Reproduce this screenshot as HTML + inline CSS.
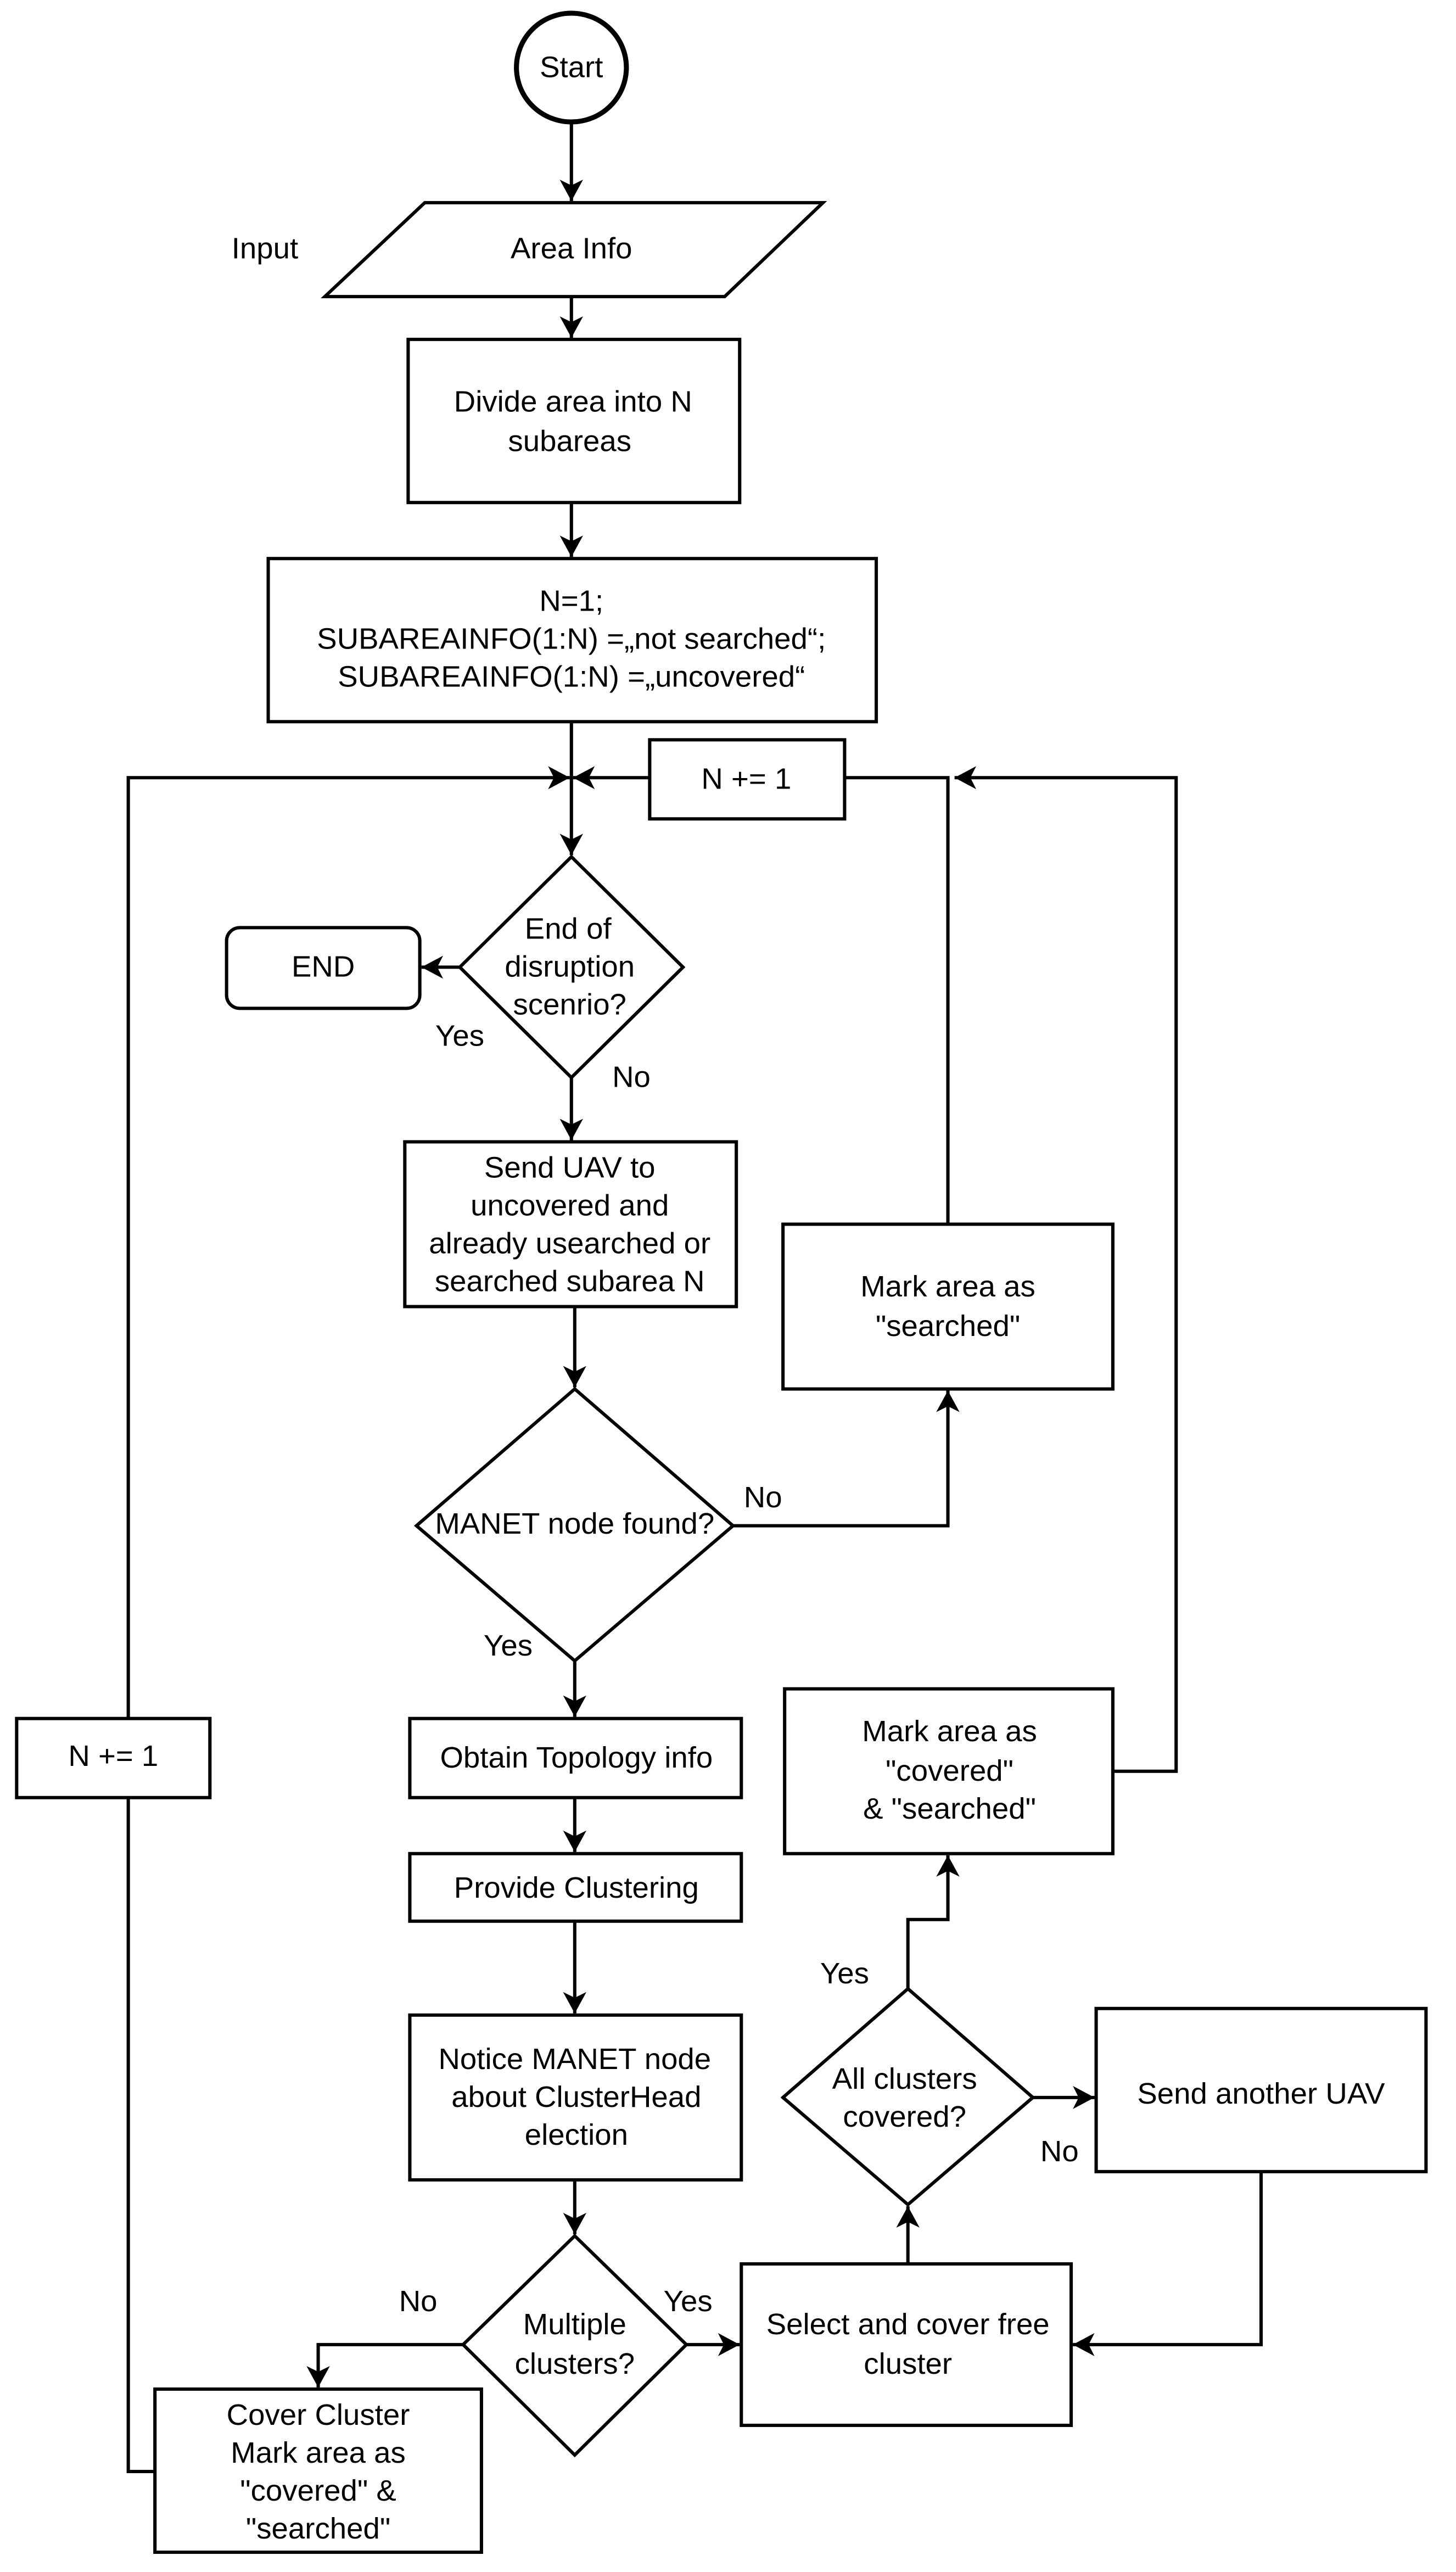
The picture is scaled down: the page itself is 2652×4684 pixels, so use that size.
<!DOCTYPE html>
<html><head><meta charset="utf-8"><style>
html,body{margin:0;padding:0;background:#fff;}
svg{display:block;}
text{font-family:"Liberation Sans",sans-serif;font-size:18px;fill:#000;text-anchor:middle;dominant-baseline:middle;}
</style></head><body>
<svg width="2652" height="4684" viewBox="0 0 874 1561" preserveAspectRatio="none" xmlns="http://www.w3.org/2000/svg">
<defs>
<marker id="a" markerUnits="userSpaceOnUse" markerWidth="16" markerHeight="16" refX="13" refY="7" orient="auto">
<path d="M0,0 L13,7 L0,14 L3.5,7 z" fill="#000"/>
</marker>
</defs>
<g fill="none" stroke="#000" stroke-width="2">
<ellipse cx="343" cy="41" rx="33" ry="33" stroke-width="3"/>
<path d="M255,123 L494,123 L435,180 L195,180 Z"/>
<rect x="245" y="206" width="199" height="99"/>
<rect x="161" y="339" width="365" height="99"/>
<rect x="390" y="449" width="117" height="48"/>
<path d="M343,520 L410,587 L343,654 L276,587 Z"/>
<rect x="136" y="563" width="116" height="49" rx="8"/>
<rect x="243" y="693" width="199" height="100"/>
<path d="M345,843 L440,926 L345,1008 L250,926 Z"/>
<rect x="470" y="743" width="198" height="100"/>
<rect x="10" y="1043" width="116" height="48"/>
<rect x="246" y="1043" width="199" height="48"/>
<rect x="246" y="1125" width="199" height="41"/>
<rect x="246" y="1223" width="199" height="100"/>
<path d="M345,1357 L412,1423 L345,1490 L278,1423 Z"/>
<rect x="93" y="1450" width="196" height="99"/>
<rect x="445" y="1374" width="198" height="98"/>
<path d="M545,1207 L620,1273 L545,1338 L470,1273 Z"/>
<rect x="471" y="1025" width="197" height="100"/>
<rect x="658" y="1219" width="198" height="99"/>

<path d="M343,75 L343,122" marker-end="url(#a)"/>
<path d="M343,180 L343,205" marker-end="url(#a)"/>
<path d="M343,305 L343,338" marker-end="url(#a)"/>
<path d="M343,438 L343,519" marker-end="url(#a)"/>
<path d="M77,1043 L77,472 L342,472" marker-end="url(#a)"/>
<path d="M390,472 L344,472" marker-end="url(#a)"/>
<path d="M507,472 L569,472 L569,743"/>
<path d="M668,1075 L706,1075 L706,472 L573,472" marker-end="url(#a)"/>
<path d="M276,587 L253,587" marker-end="url(#a)"/>
<path d="M343,654 L343,692" marker-end="url(#a)"/>
<path d="M345,793 L345,842" marker-end="url(#a)"/>
<path d="M440,926 L569,926 L569,844" marker-end="url(#a)"/>
<path d="M345,1008 L345,1042" marker-end="url(#a)"/>
<path d="M345,1091 L345,1124" marker-end="url(#a)"/>
<path d="M345,1166 L345,1222" marker-end="url(#a)"/>
<path d="M345,1323 L345,1356" marker-end="url(#a)"/>
<path d="M278,1423 L191,1423 L191,1449" marker-end="url(#a)"/>
<path d="M77,1091 L77,1500 L93,1500"/>
<path d="M412,1423 L444,1423" marker-end="url(#a)"/>
<path d="M545,1374 L545,1339" marker-end="url(#a)"/>
<path d="M545,1207 L545,1165 L569,1165 L569,1126" marker-end="url(#a)"/>
<path d="M620,1273 L657,1273" marker-end="url(#a)"/>
<path d="M757,1318 L757,1423 L644,1423" marker-end="url(#a)"/>
</g>
<text x="343" y="42">Start</text>
<text x="343" y="152">Area Info</text>
<text x="159" y="152">Input</text>
<text x="344" y="245">Divide area into N</text>
<text x="342" y="269">subareas</text>
<text x="343" y="366">N=1;</text>
<text x="343" y="389">SUBAREAINFO(1:N) =„not searched“;</text>
<text x="343" y="412">SUBAREAINFO(1:N) =„uncovered“</text>
<text x="448" y="474">N += 1</text>
<text x="341" y="565">End of</text>
<text x="342" y="588">disruption</text>
<text x="342" y="611">scenrio?</text>
<text x="194" y="588">END</text>
<text x="276" y="630">Yes</text>
<text x="379" y="655">No</text>
<text x="342" y="710">Send UAV to</text>
<text x="342" y="733">uncovered  and</text>
<text x="342" y="756">already usearched or</text>
<text x="342" y="779">searched subarea N</text>
<text x="569" y="782">Mark area as</text>
<text x="569" y="806">"searched"</text>
<text x="345" y="926">MANET node found?</text>
<text x="458" y="910">No</text>
<text x="305" y="1000">Yes</text>
<text x="68" y="1067">N += 1</text>
<text x="346" y="1068">Obtain Topology info</text>
<text x="346" y="1147">Provide Clustering</text>
<text x="345" y="1251">Notice MANET node</text>
<text x="346" y="1274">about ClusterHead</text>
<text x="346" y="1297">election</text>
<text x="570" y="1052">Mark area as</text>
<text x="570" y="1076">"covered"</text>
<text x="570" y="1099">&amp; "searched"</text>
<text x="507" y="1199">Yes</text>
<text x="543" y="1263">All clusters</text>
<text x="543" y="1286">covered?</text>
<text x="636" y="1307">No</text>
<text x="757" y="1272">Send another UAV</text>
<text x="251" y="1398">No</text>
<text x="413" y="1398">Yes</text>
<text x="345" y="1412">Multiple</text>
<text x="345" y="1436">clusters?</text>
<text x="545" y="1412">Select and cover free</text>
<text x="545" y="1436">cluster</text>
<text x="191" y="1467">Cover Cluster</text>
<text x="191" y="1490">Mark area as</text>
<text x="191" y="1513">"covered" &amp;</text>
<text x="191" y="1536">"searched"</text>
</svg>
</body></html>
